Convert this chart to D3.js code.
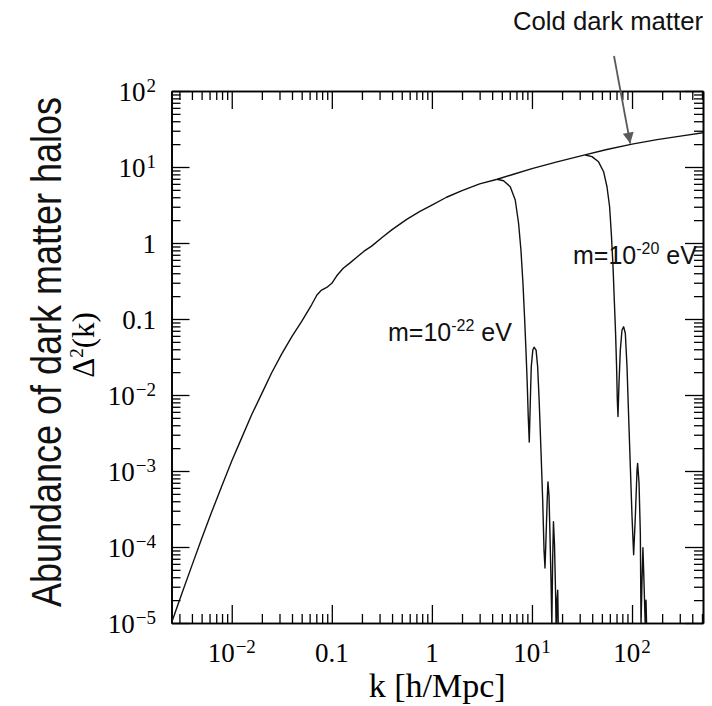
<!DOCTYPE html>
<html>
<head>
<meta charset="utf-8">
<script src="https://cdn.jsdelivr.net/npm/d3@7"></script>
<style>
  body { margin: 0; background: #fff; }
  svg { display: block; }
  .axis path { stroke: #000; stroke-width: 1.6; }
  .axis line { stroke: #000; stroke-width: 1.3; }
</style>
</head>
<body>
<svg id="chart" width="712" height="706"></svg>
<script>
// Cold dark matter power spectrum Δ²(k)
const cdmK = [0.0025, 0.00316, 0.00398, 0.00501, 0.00631, 0.00794, 0.01, 0.0126, 0.0158, 0.02,
  0.025, 0.0316, 0.04, 0.05, 0.063, 0.071, 0.079, 0.089, 0.1, 0.112, 0.13, 0.15, 0.18, 0.21,
  0.25, 0.32, 0.40, 0.56, 0.76, 1.0, 1.4, 2.0, 3.0, 4.5, 6.3, 10, 17.8, 31.6, 56, 100, 178, 316, 513];
const cdmD = [1.0e-5, 2.4e-5, 5.6e-5, 1.29e-4, 2.9e-4, 6.3e-4, 1.35e-3, 2.75e-3, 5.5e-3, 0.0105,
  0.0195, 0.0347, 0.059, 0.093, 0.155, 0.207, 0.24, 0.26, 0.295, 0.37, 0.465, 0.54, 0.66, 0.78,
  0.91, 1.19, 1.5, 2.05, 2.6, 3.15, 4.0, 4.9, 6.0, 6.9, 7.9, 9.5, 11.7, 14.1, 17, 20, 22.9, 25.7, 28.2];

// Ultra-light scalar, m = 1e-22 eV
const m22K = [4.47, 5.2, 6.07, 6.81, 7.35, 7.76, 8.13, 8.43, 8.71, 8.97, 9.18, 9.40, 9.62, 9.84,
  10.2, 10.5, 11.0, 11.4, 11.8, 12.3, 12.8, 13.2, 13.5, 13.8, 14.2, 14.45, 14.8, 15.1, 15.5, 15.8,
  16.1, 16.4, 16.8, 17.2, 17.5, 17.8, 18.1, 18.45];
const m22D = [6.9, 6.6, 5.5, 3.68, 1.82, 0.81, 0.295, 0.107, 0.039, 0.0143, 5.2e-3, 2.4e-3, 7.9e-3, 0.0235,
  0.039, 0.0425, 0.039, 0.0235, 8.6e-3, 1.9e-3, 4.15e-4, 9.1e-5, 5.3e-5, 1.24e-4, 4.15e-4, 7.2e-4, 4.8e-4, 1.67e-4, 3.7e-5, 9.3e-6,
  6.7e-5, 2.15e-4, 1.06e-4, 2.7e-5, 6.3e-6, 2.0e-5, 2.7e-5, 5e-6];

// Ultra-light scalar, m = 1e-20 eV
const m20K = [34.1, 39.8, 46.3, 52.0, 56.2, 59.7, 62.1, 64.6, 66.5, 68.5, 70.1, 71.3, 72.4, 74.1,
  76.4, 79.4, 82.4, 85.7, 89.1, 92.5, 96.2, 100, 103.8, 107.9, 112.2, 113.8, 117.5, 121.1, 123,
  125.9, 128.5, 131.5, 135.5, 138, 140.3];
const m20D = [14.4, 13.7, 11.7, 8.67, 5.5, 3.0, 1.34, 0.49, 0.178, 0.065, 0.0235, 8.6e-3, 5.2e-3, 0.0143,
  0.039, 0.0716, 0.079, 0.065, 0.0235, 5.2e-3, 1.14e-3, 2.5e-4, 7.9e-5, 2.5e-4, 1.03e-3, 1.26e-3, 6.9e-4, 1.5e-4, 9.3e-6,
  3.7e-5, 9.8e-5, 3.7e-5, 9.3e-6, 2.0e-5, 7.9e-6];

// Axis ticks and labels
const xMajor = [0.01, 0.1, 1, 10, 100];
const xLabels = [["10", "−2"], ["0.1", ""], ["1", ""], ["10", "1"], ["10", "2"]];
const yMajor = [100, 10, 1, 0.1, 0.01, 1e-3, 1e-4, 1e-5];
const yLabels = [["10", "2"], ["10", "1"], ["1", ""], ["0.1", ""], ["10", "−2"], ["10", "−3"], ["10", "−4"], ["10", "−5"]];

const svg = d3.select("#chart");
const L = 171.5, R = 703, T = 91, B = 623;

const x = d3.scaleLog().domain([0.0025, 512]).range([L, R]);
const y = d3.scaleLog().domain([1e-5, 100]).range([B, T]);

function minorTicks(scale) {
  const [a, b] = scale.domain();
  const out = [];
  for (let e = Math.floor(Math.log10(a)); e <= Math.ceil(Math.log10(b)); e++) {
    for (let m = 2; m <= 9; m++) {
      const v = m * Math.pow(10, e);
      if (v > a && v < b) out.push(v);
    }
  }
  return out;
}
const xMinor = minorTicks(x);
const yMinor = minorTicks(y);

const defs = svg.append("defs");
defs.append("clipPath").attr("id", "plot")
  .append("rect").attr("x", L).attr("y", T).attr("width", R - L).attr("height", B - T);

// Frame and inward ticks on all four sides
function drawAxis(gen, tx, ty, vals, size) {
  svg.append("g").attr("class", "axis").attr("transform", `translate(${tx},${ty})`)
    .call(gen.tickValues(vals).tickSizeInner(size).tickSizeOuter(0).tickFormat(""));
}
[[xMinor, 9], [xMajor, 18]].forEach(([vals, s]) => {
  drawAxis(d3.axisBottom(x), 0, B, vals, -s);
  drawAxis(d3.axisTop(x), 0, T, vals, -s);
});
[[yMinor, 9], [yMajor, 18]].forEach(([vals, s]) => {
  drawAxis(d3.axisLeft(y), L, 0, vals, -s);
  drawAxis(d3.axisRight(y), R, 0, vals, -s);
});

// Curves
const line = d3.line().x(d => x(d[0])).y(d => y(d[1]));
const curves = [d3.zip(cdmK, cdmD), d3.zip(m22K, m22D), d3.zip(m20K, m20D)];
svg.append("g").attr("clip-path", "url(#plot)")
  .selectAll("path").data(curves).join("path")
  .attr("d", line).attr("fill", "none").attr("stroke", "#111")
  .attr("stroke-width", 1.4).attr("stroke-linejoin", "round");

// Tick labels (serif, with superscript exponents)
const serif = "'Liberation Serif', 'Times New Roman', serif";
function label(g, base, sup, supSize) {
  g.append("tspan").text(base);
  if (sup) g.append("tspan").attr("font-size", supSize).attr("dy", -9).attr("dx", 1).text(sup);
}
xMajor.forEach((v, i) => {
  const t = svg.append("text").attr("x", x(v)).attr("y", 662)
    .attr("text-anchor", "middle").attr("font-family", serif).attr("font-size", 27);
  label(t, xLabels[i][0], xLabels[i][1], 19);
});
yMajor.forEach((v, i) => {
  const t = svg.append("text").attr("x", 156).attr("y", y(v) + 10)
    .attr("text-anchor", "end").attr("font-family", serif).attr("font-size", 27);
  label(t, yLabels[i][0], yLabels[i][1], 19);
});

// Axis titles
svg.append("text").attr("x", (L + R) / 2).attr("y", 697).attr("text-anchor", "middle")
  .attr("font-family", serif).attr("font-size", 34).text("k [h/Mpc]");

const yt = svg.append("text").attr("transform", "translate(94,345) rotate(-90)")
  .attr("text-anchor", "middle").attr("font-family", serif).attr("font-size", 31);
yt.append("tspan").text("Δ");
yt.append("tspan").attr("font-size", 19).attr("dy", -11).text("2");
yt.append("tspan").attr("dy", 11).text("(k)");

const sans = "'Liberation Sans', Arial, sans-serif";
svg.append("text").attr("transform", "translate(61,352) rotate(-90)")
  .attr("text-anchor", "middle").attr("font-family", sans).attr("font-size", 42)
  .attr("textLength", 510).attr("lengthAdjust", "spacingAndGlyphs")
  .attr("fill", "#111").text("Abundance of dark matter halos");

// Curve annotations
function massLabel(px, py, exp) {
  const t = svg.append("text").attr("x", px).attr("y", py)
    .attr("font-family", sans).attr("font-size", 25).attr("fill", "#111");
  t.append("tspan").text("m=10");
  t.append("tspan").attr("font-size", 16).attr("dy", -10).text(exp);
  t.append("tspan").attr("dy", 10).text(" eV");
}
massLabel(388, 341, "-22");
massLabel(573, 264, "-20");

svg.append("text").attr("x", 513).attr("y", 30)
  .attr("font-family", sans).attr("font-size", 26).attr("fill", "#111")
  .attr("textLength", 190).attr("lengthAdjust", "spacingAndGlyphs").text("Cold dark matter");

// Arrow pointing at the CDM curve
defs.append("marker").attr("id", "head").attr("viewBox", "0 0 10 10")
  .attr("refX", 10).attr("refY", 5).attr("markerWidth", 13).attr("markerHeight", 11)
  .attr("markerUnits", "userSpaceOnUse").attr("orient", "auto")
  .append("path").attr("d", "M0,0 L10,5 L0,10 z").attr("fill", "#5a5a5a");
svg.append("line").attr("x1", 614).attr("y1", 56).attr("x2", x(96)).attr("y2", y(20.4))
  .attr("stroke", "#5a5a5a").attr("stroke-width", 1.8).attr("marker-end", "url(#head)");
</script>
</body>
</html>
